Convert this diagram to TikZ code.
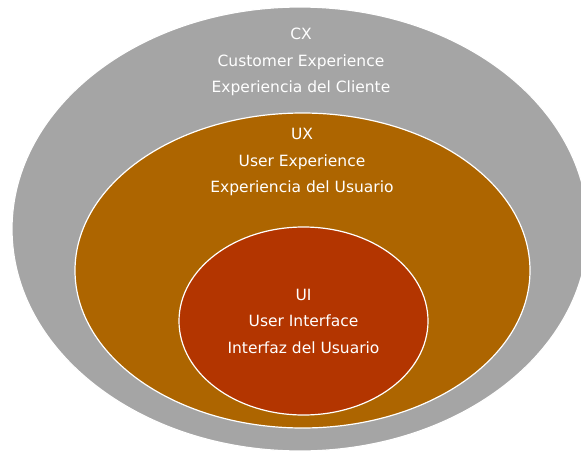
\documentclass[tikz,border=0pt]{standalone}
\usepackage{fontspec}
\setmainfont{DejaVu Sans}
\usepackage{tikz}
\usetikzlibrary{shapes.geometric, positioning, calc}
\definecolor{cxgray}{RGB}{165, 165, 165}
\definecolor{uxbrown}{RGB}{173, 101, 0}
\definecolor{uired}{RGB}{179, 53, 0}

\begin{document}
\begin{tikzpicture}[
    x=1pt, y=-1pt,
    ring/.style={ellipse, draw=white, line width=1.2pt, inner sep=0pt},
    label/.style={text=white, align=center, font=\fontsize{15.5}{26.5}\selectfont}
]
\useasboundingbox (0,0) rectangle (581,450);

% Customer experience
\node[ring, fill=cxgray, minimum width=576pt, minimum height=444pt] (cx) at (300,229) {};
\node[label] (cxtext) at (301,62) {CX\\Customer Experience\\Experiencia del Cliente};

% User experience
\node[ring, fill=uxbrown, minimum width=455pt, minimum height=315pt] (ux) at (302.5,270.5) {};
\node[label] (uxtext) at (302,162) {UX\\User Experience\\Experiencia del Usuario};

% User interface
\node[ring, fill=uired, minimum width=249pt, minimum height=188pt] (ui) at (303.5,321) {};
\node[label] (uitext) at (ui.center) {UI\\User Interface\\Interfaz del Usuario};

\end{tikzpicture}
\end{document}
